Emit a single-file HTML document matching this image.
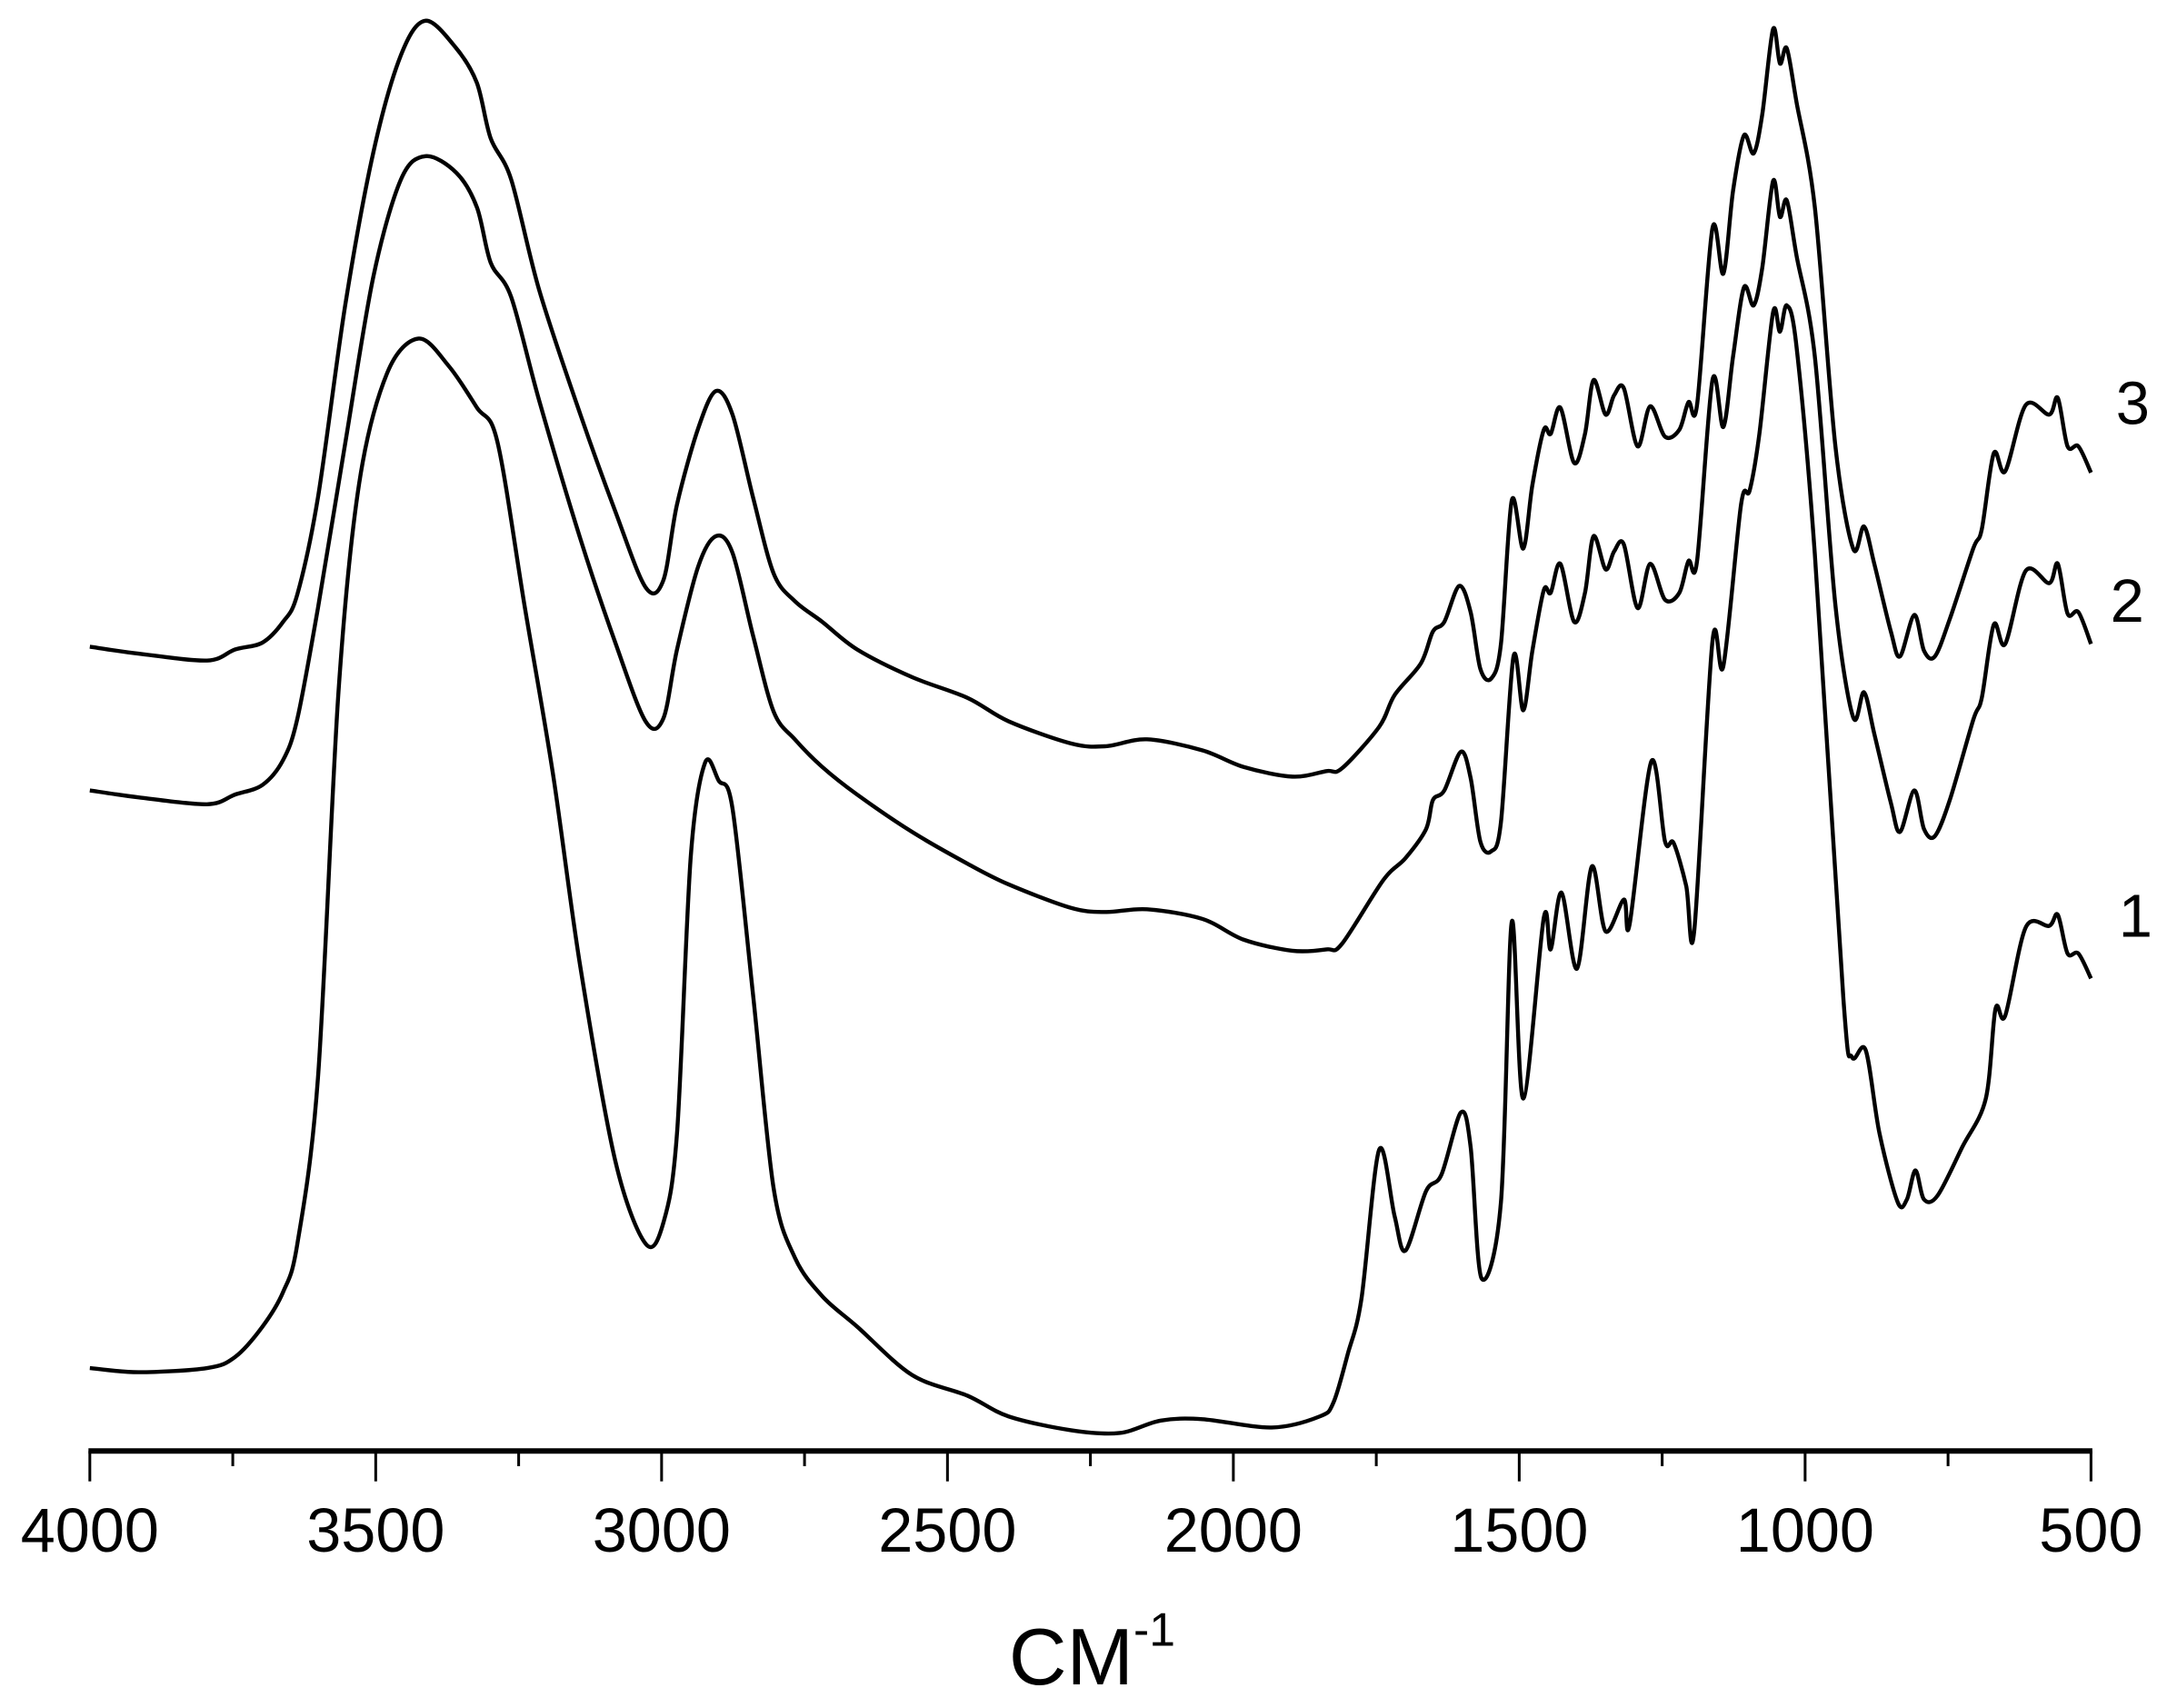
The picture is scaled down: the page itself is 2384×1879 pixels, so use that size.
<!DOCTYPE html>
<html><head><meta charset="utf-8"><style>
html,body{margin:0;padding:0;background:#fff;}
svg{display:block;}
text{font-family:"Liberation Sans",Arial,sans-serif;fill:#000;}
</style></head><body>
<svg id="chart" width="2384" height="1879" viewBox="0 0 1568 1236" preserveAspectRatio="none" xmlns="http://www.w3.org/2000/svg">
<rect x="0" y="0" width="1568" height="1236" fill="#fff"/>
<g id="axis"></g>
<g id="series"></g>
<text x="730" y="1219" font-size="58">CM<tspan font-size="34" dy="-28">-1</tspan></text>
<text x="1531" y="307" font-size="44">3</text>
<text x="1527" y="450" font-size="44">2</text>
<text x="1533" y="678" font-size="44">1</text>
</svg>
<script>
const xTicks = [4000,3500,3000,2500,2000,1500,1000,500];
const xMinorTicks = [3750,3250,2750,2250,1750,1250,750];
const wn1 = [4000,3915,3795,3746,3698,3662,3637,3601,3565,3529,3480,3425,3372,3323,3287,3239,3190,3142,3081,3028,2997,2973,2949,2924,2900,2876,2840,2804,2767,2719,2658,2562,2465,2393,2284,2199,2127,2054,1933,1849,1825,1800,1776,1745,1718,1699,1663,1636,1602,1585,1566,1532,1513,1493,1457,1445,1426,1399,1373,1349,1317,1307,1269,1245,1230,1208,1194,1162,1143,1112,1097,1080,1056,1044,1032,1015,983,933,918,894,870,838,822,807,792,768,725,684,667,650,614,573,558,541,522,500];
const ab1 = [60,57,60,68,90,115,150,270,550,700,780,805,785,755,730,610,490,350,210,150,165,230,430,498,485,465,330,190,140,112,90,55,40,25,15,13,22,23,17,25,35,70,110,218,170,145,188,200,245,220,125,180,383,255,386,363,404,349,423,376,399,381,499,441,440,409,376,586,568,685,695,736,824,810,829,799,649,327,285,290,230,180,182,203,182,185,220,255,320,315,379,380,388,360,360,342];
const wn2 = [4000,3915,3795,3746,3698,3662,3637,3601,3553,3504,3456,3413,3359,3323,3299,3263,3214,3142,3081,3028,2997,2973,2936,2905,2876,2840,2804,2767,2719,2658,2562,2465,2393,2284,2223,2151,2054,1982,1897,1837,1810,1738,1699,1663,1651,1631,1602,1585,1568,1549,1532,1510,1493,1477,1457,1445,1428,1404,1385,1370,1349,1334,1317,1293,1271,1245,1220,1204,1189,1162,1143,1126,1107,1090,1075,1056,1044,1032,1015,983,947,916,897,879,850,834,809,792,773,747,706,691,670,650,614,573,558,541,522,500];
const ab2 = [478,473,468,475,482,500,530,610,730,850,920,937,925,900,860,835,760,660,585,528,530,580,640,662,650,590,535,515,495,475,448,425,410,393,390,392,385,370,362,363,367,413,429,450,471,478,506,487,441,434,455,575,536,579,623,621,642,600,621,662,638,651,656,610,642,616,621,644,644,775,741,792,842,829,856,919,893,905,865,792,612,531,549,519,469,448,478,450,445,471,529,545,598,584,637,628,642,606,607,584];
const wn3 = [4000,3915,3795,3746,3698,3662,3637,3601,3553,3504,3456,3413,3359,3323,3299,3263,3214,3142,3081,3028,2997,2973,2936,2905,2876,2840,2804,2767,2719,2658,2562,2465,2393,2284,2223,2151,2054,1982,1897,1837,1810,1745,1718,1672,1651,1631,1605,1585,1568,1549,1532,1513,1493,1477,1457,1445,1428,1404,1385,1370,1349,1334,1317,1293,1271,1245,1220,1204,1189,1162,1143,1126,1107,1090,1075,1056,1044,1032,1015,983,947,916,897,879,850,834,809,792,773,747,706,691,670,650,614,573,558,541,522,500];
const ab3 = [582,577,572,580,585,600,620,690,830,940,1010,1035,1015,990,950,920,840,750,680,625,630,685,740,767,750,690,635,615,600,580,560,545,528,512,510,515,507,495,488,492,494,524,547,570,593,600,626,607,566,559,584,688,653,699,739,736,755,715,736,775,750,764,769,727,756,734,739,759,757,885,852,912,952,939,967,1029,1004,1015,976,900,727,653,669,642,593,575,605,579,575,602,653,667,722,709,757,750,762,727,727,708];

const X0=65, X1=1513, AXY=1050;
function xScale(w){return X0+(4000-w)/3500*(X1-X0);}
function yScale(v){return AXY-v;}
const NS="http://www.w3.org/2000/svg";
const axis=document.getElementById('axis');
const line=document.createElementNS(NS,'line');


line.setAttribute('x1',X0-1);line.setAttribute('x2',X1+1);line.setAttribute('y1',AXY);line.setAttribute('y2',AXY);
line.setAttribute('stroke','#000');line.setAttribute('stroke-width','4');
axis.appendChild(line);
xTicks.forEach(t=>{
  const l=document.createElementNS(NS,'line');
  
  
  const x=xScale(t);
  l.setAttribute('x1',x);l.setAttribute('x2',x);l.setAttribute('y1',AXY);l.setAttribute('y2',1072);
  l.setAttribute('stroke','#000');l.setAttribute('stroke-width','2');
  axis.appendChild(l);
  const tx=document.createElementNS(NS,'text');
  
  
  tx.setAttribute('x',x);tx.setAttribute('y',1123);tx.setAttribute('font-size','45');
  tx.setAttribute('text-anchor','middle');
  tx.textContent=t;
  axis.appendChild(tx);
});
xMinorTicks.forEach(t=>{
  const l=document.createElementNS(NS,'line');
  
  
  const x=xScale(t);
  l.setAttribute('x1',x);l.setAttribute('x2',x);l.setAttribute('y1',AXY);l.setAttribute('y2',1061);
  l.setAttribute('stroke','#000');l.setAttribute('stroke-width','2');
  axis.appendChild(l);
});
function smoothPath(pts){
  let d='M'+pts[0][0].toFixed(2)+','+pts[0][1].toFixed(2);
  for(let i=0;i<pts.length-1;i++){
    const p0=pts[i-1]||pts[i],p1=pts[i],p2=pts[i+1],p3=pts[i+2]||p2;
    const t=0.16;
    const c1x=p1[0]+(p2[0]-p0[0])*t,c1y=p1[1]+(p2[1]-p0[1])*t;
    const c2x=p2[0]-(p3[0]-p1[0])*t,c2y=p2[1]-(p3[1]-p1[1])*t;
    d+='C'+c1x.toFixed(2)+','+c1y.toFixed(2)+' '+c2x.toFixed(2)+','+c2y.toFixed(2)+' '+p2[0].toFixed(2)+','+p2[1].toFixed(2);
  }
  return d;
}
const seriesG=document.getElementById('series');
[[wn1,ab1,'spectrum-1'],[wn2,ab2,'spectrum-2'],[wn3,ab3,'spectrum-3']].forEach(s=>{
  const pts=s[0].map((w,i)=>[xScale(w),yScale(s[1][i])]);
  const p=document.createElementNS(NS,'path');
  
  
  p.setAttribute('d',smoothPath(pts));
  p.setAttribute('fill','none');p.setAttribute('stroke','#000');
  p.setAttribute('stroke-width','2.9');p.setAttribute('stroke-linejoin','round');
  seriesG.appendChild(p);
});
</script>
</body></html>
